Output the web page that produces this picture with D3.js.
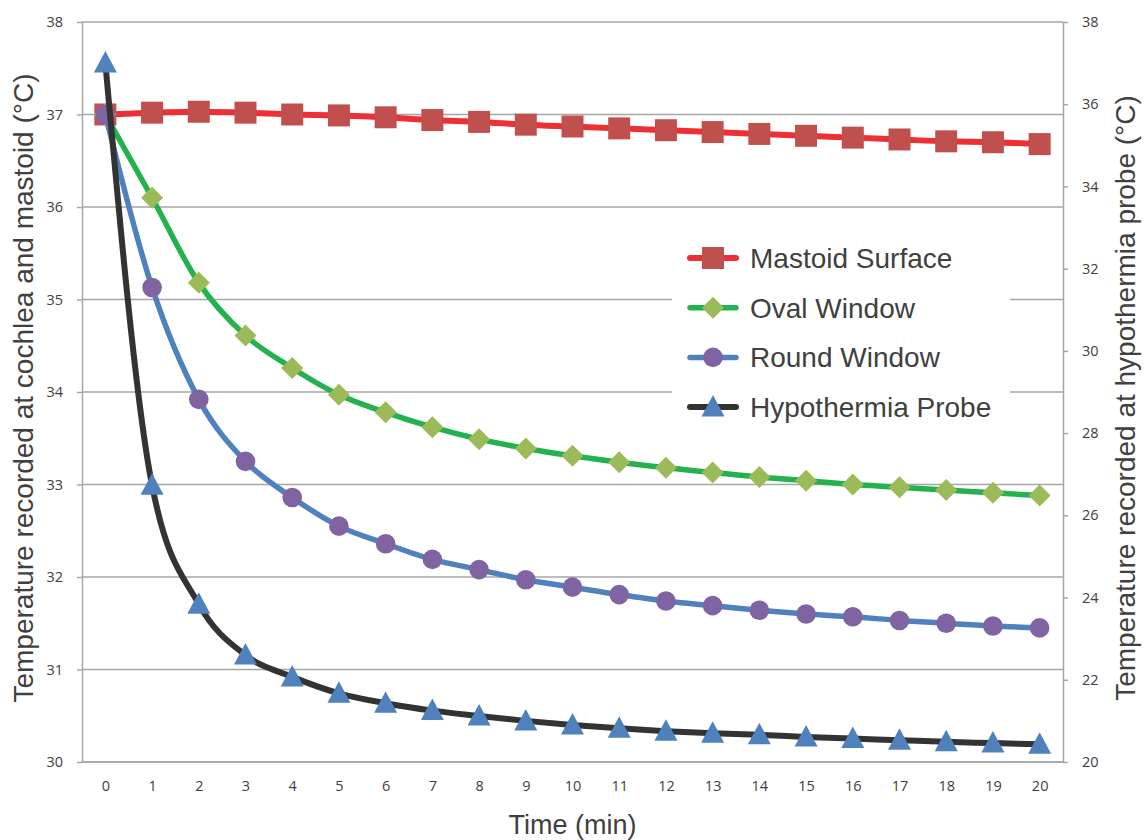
<!DOCTYPE html>
<html>
<head>
<meta charset="utf-8">
<script src="https://cdn.jsdelivr.net/npm/d3@7"></script>
<style>
  html, body { margin: 0; padding: 0; background: #fff; }
  svg { display: block; }
</style>
</head>
<body>
<svg id="chart" width="1144" height="840"></svg>
<script>
const times = [0,1,2,3,4,5,6,7,8,9,10,11,12,13,14,15,16,17,18,19,20];

const mastoidSurface = [37.00,37.02,37.03,37.02,37.00,36.99,36.97,36.94,36.92,36.89,36.87,36.85,36.83,36.81,36.79,36.77,36.75,36.73,36.71,36.70,36.68];
const ovalWindow     = [37.00,36.10,35.18,34.61,34.26,33.97,33.78,33.62,33.49,33.39,33.31,33.24,33.18,33.13,33.08,33.04,33.00,32.97,32.94,32.91,32.88];
const roundWindow    = [37.00,35.13,33.92,33.25,32.86,32.55,32.36,32.19,32.08,31.97,31.89,31.81,31.74,31.69,31.64,31.60,31.57,31.53,31.50,31.47,31.45];
const hypothermiaProbe = [37.00,26.73,23.84,22.60,22.07,21.67,21.43,21.25,21.12,21.00,20.90,20.82,20.75,20.70,20.66,20.61,20.57,20.53,20.49,20.46,20.43];

const leftTicks  = [30,31,32,33,34,35,36,37,38];
const rightTicks = [20,22,24,26,28,30,32,34,36,38];

const seriesNames = ["Mastoid Surface","Oval Window","Round Window","Hypothermia Probe"];

const svg = d3.select("#chart");
const L = 82, R = 1063, T = 22, B = 762;

const x = d3.scalePoint().domain(times).range([L, R]).padding(0.5);
const yL = d3.scaleLinear().domain([30, 38]).range([B, T]);
const yR = d3.scaleLinear().domain([20, 38]).range([B, T]);

const gridColor = "#a6a6a6";
const textColor = "#404040";
const tickFont = "'Open Sans', 'DejaVu Sans', sans-serif";
const titleFont = "'Liberation Sans', Arial, sans-serif";

// gridlines
svg.append("g").selectAll("line").data(leftTicks).join("line")
  .attr("x1", L).attr("x2", R)
  .attr("y1", d => yL(d)).attr("y2", d => yL(d))
  .attr("stroke", gridColor).attr("stroke-width", 1.5);

// axes
const styleAxis = g => {
  g.select(".domain").attr("stroke", gridColor).attr("stroke-width", 1.5);
  g.selectAll(".tick line").attr("stroke", gridColor).attr("stroke-width", 1.5);
  g.selectAll("text").attr("fill", textColor).style("font-family", tickFont).style("font-size", "14.5px");
};

svg.append("g").attr("transform", `translate(0,${B})`)
  .call(d3.axisBottom(x).tickSize(0).tickPadding(19).tickSizeOuter(0))
  .call(styleAxis)
  .call(g => g.select(".domain").attr("d", `M${L},0H${R}`));

svg.append("g").attr("transform", `translate(${L},0)`)
  .call(d3.axisLeft(yL).tickValues(leftTicks).tickSize(5).tickPadding(14).tickSizeOuter(0))
  .call(styleAxis);

svg.append("g").attr("transform", `translate(${R},0)`)
  .call(d3.axisRight(yR).tickValues(rightTicks).tickSize(5).tickPadding(14).tickSizeOuter(0))
  .call(styleAxis);

// legend background hides gridlines behind the legend
const legX = 672, legY = 232;
svg.append("rect").attr("x", legX).attr("y", legY).attr("width", 338).attr("height", 196).attr("fill", "#fff");

// series
const series = [
  {name: seriesNames[0], values: mastoidSurface, y: yL, line: "#ee3035", marker: "square", fill: "#c0504d", lw: 6},
  {name: seriesNames[1], values: ovalWindow, y: yL, line: "#24b24f", marker: "diamond", fill: "#9bbb59", lw: 5.5},
  {name: seriesNames[2], values: roundWindow, y: yL, line: "#4f81bd", marker: "circle", fill: "#8064a2", lw: 5.5},
  {name: seriesNames[3], values: hypothermiaProbe, y: yR, line: "#333333", marker: "triangle", fill: "#4f81bd", lw: 6}
];

const markerPath = (type) => {
  switch (type) {
    case "square": return "M-11,-11H11V11H-11Z";
    case "diamond": return "M0,-11L11,0L0,11L-11,0Z";
    case "circle": return d3.symbol(d3.symbolCircle, Math.PI * 9.8 * 9.8)();
    case "triangle": return "M0,-12L11.5,9.5H-11.5Z";
  }
};

series.forEach(s => {
  const g = svg.append("g");
  const line = d3.line().x((d, i) => x(times[i])).y(d => s.y(d)).curve(d3.curveMonotoneX);
  g.append("path").datum(s.values).attr("d", line)
    .attr("fill", "none").attr("stroke", s.line).attr("stroke-width", s.lw)
    .attr("stroke-linejoin", "round").attr("stroke-linecap", "round");
  g.selectAll("path.m").data(s.values).join("path").attr("class", "m")
    .attr("transform", (d, i) => `translate(${x(times[i])},${s.y(d)})`)
    .attr("d", markerPath(s.marker))
    .attr("fill", s.fill);
});

// legend
const leg = svg.append("g");
series.forEach((s, i) => {
  const cy = 258 + i * 49.7;
  leg.append("line").attr("x1", 690).attr("x2", 736).attr("y1", cy).attr("y2", cy)
    .attr("stroke", s.line).attr("stroke-width", s.lw).attr("stroke-linecap", "round");
  leg.append("path").attr("transform", `translate(713,${cy})`).attr("d", markerPath(s.marker)).attr("fill", s.fill);
  leg.append("text").attr("x", 750).attr("y", cy + 10)
    .attr("fill", textColor).style("font-family", titleFont).style("font-size", "28px")
    .text(s.name);
});

// axis titles
svg.append("text").attr("x", (L + R) / 2).attr("y", 834).attr("text-anchor", "middle")
  .attr("fill", textColor).style("font-family", titleFont).style("font-size", "27px")
  .text("Time (min)");

svg.append("text").attr("transform", `translate(33,${(T + B) / 2 - 4}) rotate(-90)`).attr("text-anchor", "middle")
  .attr("fill", textColor).style("font-family", titleFont).style("font-size", "28px")
  .text("Temperature recorded at cochlea and mastoid (°C)");

svg.append("text").attr("transform", `translate(1135,${(T + B) / 2 + 6}) rotate(-90)`).attr("text-anchor", "middle")
  .attr("fill", textColor).style("font-family", titleFont).style("font-size", "28px")
  .text("Temperature recorded at hypothermia probe (°C)");
</script>
</body>
</html>
